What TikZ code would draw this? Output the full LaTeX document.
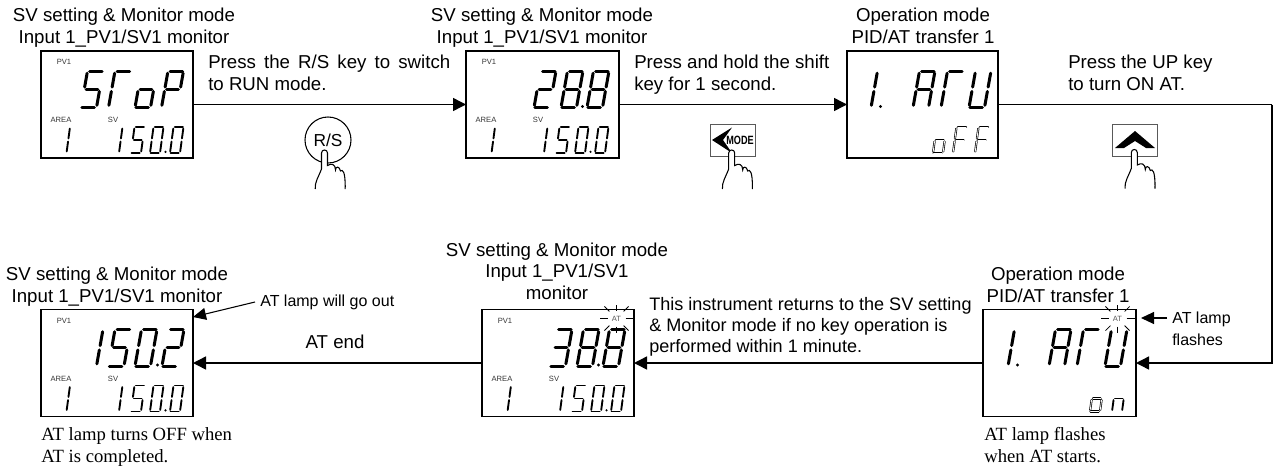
\documentclass[tikz,border=0pt]{standalone}
\usepackage{fontspec}
\usepackage{graphicx}
\setmainfont{Liberation Sans}
\newfontfamily\tmsfont{Liberation Serif}
\usetikzlibrary{arrows.meta}
\makeatletter
% digit: #1 style, #2 x, #3 y(bottom), #4 w, #5 h, #6 slant, #7 segments
\newcommand\lcddig[7]{%
  \pgfmathsetmacro\dX{#2}\pgfmathsetmacro\dY{#3}%
  \pgfmathsetmacro\dW{#4}\pgfmathsetmacro\dH{#5}\pgfmathsetmacro\dS{#6}%
  \foreach \sg in {#7}{\csname lcdseg@\sg\endcsname{#1}}%
}
\def\lcdseg@a#1{\draw[#1] ({\dX+\dS+0.14*\dW},{\dY-\dH}) -- ({\dX+\dS+0.95*\dW},{\dY-\dH});}
\def\lcdseg@d#1{\draw[#1] ({\dX+0.05*\dW},{\dY}) -- ({\dX+0.86*\dW},{\dY});}
\def\lcdseg@g#1{\draw[#1] ({\dX+\dS/2+0.12*\dW},{\dY-\dH/2}) -- ({\dX+\dS/2+0.88*\dW},{\dY-\dH/2});}
\def\lcdseg@f#1{\draw[#1] ({\dX+\dS*0.56},{\dY-\dH*0.56}) -- ({\dX+\dS*0.94},{\dY-\dH*0.94});}
\def\lcdseg@e#1{\draw[#1] ({\dX+\dS*0.06},{\dY-\dH*0.06}) -- ({\dX+\dS*0.44},{\dY-\dH*0.44});}
\def\lcdseg@b#1{\draw[#1] ({\dX+\dW+\dS*0.56},{\dY-\dH*0.56}) -- ({\dX+\dW+\dS*0.94},{\dY-\dH*0.94});}
\def\lcdseg@c#1{\draw[#1] ({\dX+\dW+\dS*0.06},{\dY-\dH*0.06}) -- ({\dX+\dW+\dS*0.44},{\dY-\dH*0.44});}
\makeatother
\newcommand\bigdig[2]{\lcddig{bigseg}{#1}{56.5}{15.5}{36.5}{6.5}{#2}}
\newcommand\smalldig[2]{\lcddig{smallseg}{#1}{102}{10}{26}{3.5}{#2}}
\newcommand\hollowdig[2]{\lcddig{hollowseg}{#1}{102}{10}{26}{3.5}{#2}}
\newcommand\labelsPV{%
  \node[tiny] (pv) at (23,11) {PV1};
  \node[tiny] (area) at (20,69) {AREA};
  \node[tiny] (sv) at (72,69) {SV};
  \smalldig{15.5}{b,c}
  \smalldig{68}{b,c}
  \smalldig{90}{a,f,g,c,d}
  \smalldig{109}{a,b,c,d,e,f}
  \fill (124.5,100.8) circle (1.2);
  \smalldig{129}{a,b,c,d,e,f}
}
\newcommand\burst{%
  \node[tiny,text=black!65] (at) at (134.5,9) {AT};
  \foreach \a/\p/\q in {0/9/17,45/10/17,90/8/14,135/10/17,180/9/17,225/10/17,270/8/14,315/10/17}
    \draw[ray] ({134.5+\p*cos(\a)},{9-\p*sin(\a)}) -- ({134.5+\q*cos(\a)},{9-\q*sin(\a)});
}
% hand with fingertip at (#1,#2)
\newcommand\hand[2]{%
  \begin{scope}[shift={(#1,#2)}]
    \fill[white] (-3,2) .. controls (-3,-2) and (3,-2) .. (3,2) -- (3,14) -- (21,18) -- (21,38) -- (-9.5,38) -- (-9.5,28) -- (-3,18) -- cycle;
    \draw[handline] (-9.3,38) .. controls (-9.8,31) and (-6,26) .. (-3,18) -- (-3,2)
      .. controls (-3,-2) and (3,-2) .. (3,2) -- (3,14.5)
      .. controls (7,12) and (11,13) .. (11,19)
      .. controls (11,15) and (15,15) .. (16,20)
      .. controls (18,18) and (21,20) .. (20.7,38);
  \end{scope}
}
\tikzset{
  lcdbox/.style={draw=black,line width=1.1pt,rectangle,inner sep=0pt,outer sep=0pt,minimum height=80.25pt},
  title/.style={align=center,font=\fontsize{14}{16.1}\selectfont,anchor=base,inner sep=0pt},
  body/.style={align=left,font=\fontsize{14}{16.1}\selectfont,anchor=base west,inner sep=0pt},
  note/.style={align=left,font=\fontsize{12}{15.8}\selectfont,anchor=base west,inner sep=0pt},
  serif/.style={align=left,font=\tmsfont\fontsize{14}{15.8}\selectfont,anchor=base west,inner sep=0pt},
  tiny/.style={font=\fontsize{5.7}{6}\selectfont,text=black!80,inner sep=0pt},
  bigseg/.style={line width=2.25pt,line cap=round,black},
  smallseg/.style={line width=1.4pt,line cap=round,black},
  hollowseg/.style={black,line width=0.5pt,double=white,double distance=0.6pt,line cap=round},
  ray/.style={line width=0.55pt,black},
  flow/.style={line width=1.1pt,-{Triangle[length=9.75pt,width=9.75pt]}},
  leader/.style={line width=0.8pt,-{Triangle[length=9.75pt,width=9pt]}},
  handline/.style={line width=0.8pt,black},
  keybox/.style={draw=black!65,line width=0.75pt,fill=white,inner sep=0pt,minimum width=33.75pt,minimum height=24pt},
}
\begin{document}
\begin{tikzpicture}[x=0.75pt,y=-0.75pt]
\useasboundingbox (0,0) rectangle (1273,468);

% boxes
\node[lcdbox,minimum width=114pt] (b1) at (117,104.5) {};
\node[lcdbox,minimum width=114.75pt] (b2) at (542.5,104.5) {};
\node[lcdbox,minimum width=113.25pt] (b3) at (922.5,104.5) {};
\node[lcdbox,minimum width=114pt] (b4) at (117,363) {};
\node[lcdbox,minimum width=114pt] (b5) at (558,363) {};
\node[lcdbox,minimum width=114.75pt] (b6) at (1059.5,363) {};

% titles (base anchor = last line)
\node[title] (t1) at (124,43) {SV setting \& Monitor mode\\Input 1\_PV1/SV1 monitor};
\node[title] (t2) at (542,43) {SV setting \& Monitor mode\\Input 1\_PV1/SV1 monitor};
\node[title] (t3) at (923,43) {Operation mode\\PID/AT transfer 1};
\node[title] (t4) at (117,302) {SV setting \& Monitor mode\\Input 1\_PV1/SV1 monitor};
\node[title] (t5) at (557,299) {SV setting \& Monitor mode\\Input 1\_PV1/SV1\\monitor};
\node[title] (t6) at (1058,302) {Operation mode\\PID/AT transfer 1};

% displays
\begin{scope}[shift={(b1.north west)}]
  \labelsPV
  \bigdig{40}{a,f,g,c,d}
  \bigdig{67.5}{a,f,e}
  \bigdig{94}{c,d,e,g}
  \bigdig{120.5}{a,b,e,f,g}
\end{scope}
\begin{scope}[shift={(b2.north west)}]
  \labelsPV
  \bigdig{68}{a,b,g,e,d}
  \bigdig{95}{a,b,c,d,e,f,g}
  \fill (116.5,55.5) circle (1.7);
  \bigdig{121}{a,b,c,d,e,f,g}
\end{scope}
\begin{scope}[shift={(b3.north west)}]
  \bigdig{8.5}{b,c}
  \fill (33.5,55.5) circle (1.7);
  \bigdig{66}{a,b,c,e,f,g}
  \bigdig{94}{a,f,e}
  \bigdig{122}{b,c,d,e,f}
  \hollowdig{86}{c,d,e,g}
  \hollowdig{106}{a,f,g,e}
  \hollowdig{128}{a,f,g,e}
\end{scope}
\begin{scope}[shift={(b4.north west)}]
  \labelsPV
  \bigdig{40}{b,c}
  \bigdig{67.5}{a,f,g,c,d}
  \bigdig{94}{a,b,c,d,e,f}
  \fill (116.5,55.5) circle (1.7);
  \bigdig{121}{a,b,g,e,d}
\end{scope}
\begin{scope}[shift={(b5.north west)}]
  \labelsPV
  \bigdig{68}{a,b,g,c,d}
  \bigdig{95}{a,b,c,d,e,f,g}
  \fill (116.5,55.5) circle (1.7);
  \bigdig{121}{a,b,c,d,e,f,g}
  \burst
\end{scope}
\begin{scope}[shift={(b6.north west)}]
  \bigdig{9.5}{b,c}
  \fill (34.5,55.5) circle (1.7);
  \bigdig{66}{a,b,c,e,f,g}
  \bigdig{94}{a,f,e}
  \bigdig{122}{b,c,d,e,f}
  \hollowdig{107}{c,d,e,g}
  \smalldig{129}{c,e,g}
  \burst
\end{scope}

% connectors
\coordinate (turn) at (1272,104.5);
\draw[flow] (b1) -- (b2);
\draw[flow] (b2) -- (b3);
\draw[line width=1.1pt] (b3.east) -- (turn);
\draw[flow] (turn) |- (b6.east);
\draw[flow] (b6) -- (b5);
\draw[flow] (b5) -- (b4);

% connector texts
\node[body] (p1) at (208,90) {\hbox to 181.5pt{Press\hfill the\hfill R/S\hfill key\hfill to\hfill switch}\\to RUN mode.};
\node[body] (p2) at (634,90) {Press and hold the shift\\key for 1 second.};
\node[body] (p3) at (1068,90) {Press the UP key\\to turn ON AT.};
\node[body,font=\fontsize{13.55}{15.5}\selectfont] (p4) at (649,352) {This instrument returns to the SV setting\\\& Monitor mode if no key operation is\\performed within 1 minute.};
\node[title] (p5) at (335,348) {AT end};

% notes
\node[note] (n1) at (260,306) {AT lamp will go out};
\coordinate (n1a) at (255,302);
\coordinate (n1b) at (193,317);
\draw[leader] (n1a) -- (n1b);
\node[note] (n2) at (1172,345) {AT lamp\\flashes};
\coordinate (n2a) at (1167,318);
\coordinate (n2b) at (1141,318);
\draw[leader] (n2a) -- (n2b);
\node[serif] (s1) at (41,462) {AT lamp turns OFF when\\AT is completed.};
\node[serif] (s2) at (984,462) {AT lamp flashes\\when AT starts.};

% keys
\node[circle,draw=black,line width=0.8pt,minimum size=34.5pt,inner sep=0pt,font=\fontsize{13}{13}\selectfont] (k1) at (328,140) {R/S};
\hand{324.5}{151}
\node[keybox] (k2) at (732.5,140) {};
\fill (712,140) -- (732,127.5) -- (723,140) -- (732,153) -- cycle;
\node[inner sep=0pt,font=\bfseries\fontsize{9}{9}\selectfont] (k2t) at (740,140) {\scalebox{0.76}[1]{MODE}};
\hand{731.7}{151}
\node[keybox] (k3) at (1135,140) {};
\fill (1135,131) -- (1155,148) -- (1146,148) -- (1135,141) -- (1124,148) -- (1115,148) -- cycle;
\hand{1134.3}{150.5}
\end{tikzpicture}
\end{document}
